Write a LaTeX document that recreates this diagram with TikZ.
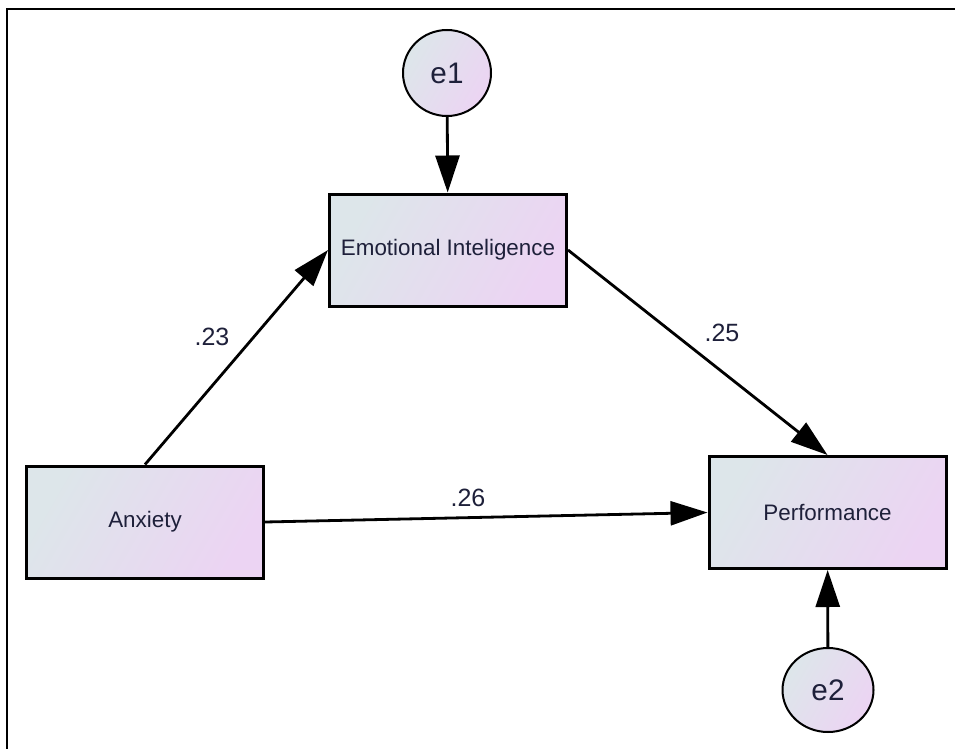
\documentclass[tikz,border=0pt]{standalone}
\usepackage{fontspec}
\setmainfont{Liberation Sans}
\usetikzlibrary{arrows.meta,shapes.geometric}
\definecolor{fillL}{RGB}{221,230,234}
\definecolor{fillR}{RGB}{236,212,243}
\definecolor{txt}{RGB}{30,32,58}
\tikzset{
  gradfill/.style={top color=fillL, bottom color=fillR, shading angle=60},
  varbox/.style={draw=black, line width=3pt, rectangle, minimum width=237pt, minimum height=112pt,
    gradfill, text=txt, font=\fontsize{22.4}{26}\selectfont, inner sep=0pt},
  errnode/.style={draw=black, line width=2pt, ellipse, gradfill,
    text=txt, font=\fontsize{29.7}{33}\selectfont, inner sep=0pt},
  path/.style={line width=2.8pt, -{Triangle[length=37pt, width=24pt]}},
  coef/.style={text=txt, font=\fontsize{25}{29}\selectfont, inner sep=0pt},
}
\begin{document}
\begin{tikzpicture}[x=1pt,y=-1pt]
\useasboundingbox (0,0) rectangle (955,749);
\fill[white] (0,0) rectangle (955,749);
\draw[line width=2pt] (7,749) -- (7,9.5) -- (955,9.5);

\node[errnode, minimum width=88pt, minimum height=86pt] (e1) at (447,73) {e1};
\node[varbox] (EI) at (448,250) {Emotional Inteligence};
\node[varbox] (A) at (145,522) {Anxiety};
\node[varbox] (P) at (827.5,512.5) {Performance};
\node[errnode, minimum width=91pt, minimum height=84pt] (e2) at (828,690) {e2};

\draw[path] (e1) -- (EI);
\draw[path] (A.north) -- (EI.west);
\draw[path] (EI.east) -- (P.north);
\draw[path] (A.east) -- (P.west);
\draw[path] (e2) -- (P);

\node[coef] (c1) at (212,337) {.23};
\node[coef] (c2) at (722,333) {.25};
\node[coef] (c3) at (468,498) {.26};
\end{tikzpicture}
\end{document}
